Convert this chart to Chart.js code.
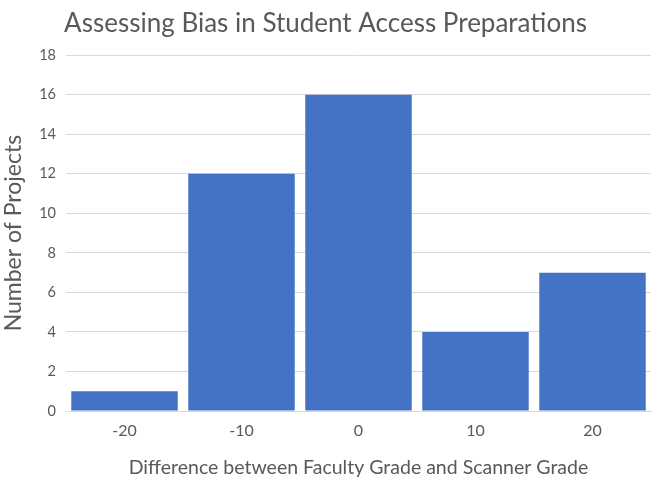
<!DOCTYPE html>
<html>
<head>
<meta charset="utf-8">
<script src="https://cdn.jsdelivr.net/npm/chart.js@4/dist/chart.umd.min.js"></script>
<style>
  html, body { margin: 0; padding: 0; background: #ffffff; }
  #wrap { width: 653px; height: 481px; }
</style>
</head>
<body>
<div id="wrap"><canvas id="chart" width="653" height="481"></canvas></div>
<script>
// Grade difference buckets and project counts
const categories = ['-20', '-10', '0', '10', '20'];
const projectCounts = [1, 12, 16, 4, 7];
const yTicks = [0, 2, 4, 6, 8, 10, 12, 14, 16, 18];

const chartTitle = 'Assessing Bias in Student Access Preparations';
const xTitle = 'Difference between Faculty Grade and Scanner Grade';
const yTitle = 'Number of Projects';

const textColor = '#595959';
const fontFamily = 'Lato, "Open Sans", sans-serif';

new Chart(document.getElementById('chart'), {
  type: 'bar',
  data: {
    labels: categories,
    datasets: [{
      data: projectCounts,
      backgroundColor: '#4472C4',
      borderWidth: 0,
      barPercentage: 1.0,
      categoryPercentage: 0.91
    }]
  },
  options: {
    responsive: false,
    animation: false,
    layout: { padding: { left: 0, right: 2, top: 0, bottom: 0 } },
    plugins: {
      legend: { display: false },
      tooltip: { enabled: false },
      title: {
        display: true,
        text: chartTitle,
        color: textColor,
        font: { family: fontFamily, size: 26, weight: 'normal' },
        padding: { top: 8, bottom: 16 }
      }
    },
    scales: {
      x: {
        grid: { display: false, drawTicks: false },
        border: { display: true, color: '#d9d9d9', width: 1 },
        ticks: {
          color: textColor,
          font: { family: fontFamily, size: 16 },
          padding: 10
        },
        title: {
          display: true,
          text: xTitle,
          color: textColor,
          font: { family: fontFamily, size: 19.5 },
          padding: { top: 0, bottom: 2 }
        },
        afterFit: (scale) => { scale.height = 70; }
      },
      y: {
        min: 0,
        max: 18,
        afterBuildTicks: (scale) => { scale.ticks = yTicks.map(v => ({ value: v })); },
        grid: { color: '#d9d9d9', lineWidth: 1, drawTicks: false },
        border: { display: false },
        ticks: {
          color: textColor,
          font: { family: fontFamily, size: 14.5 },
          padding: 10
        },
        title: {
          display: true,
          text: yTitle,
          color: textColor,
          font: { family: fontFamily, size: 23 },
          padding: { top: 0, bottom: 0 }
        },
        afterFit: (scale) => { scale.width = 66; }
      }
    }
  }
});
</script>
</body>
</html>
